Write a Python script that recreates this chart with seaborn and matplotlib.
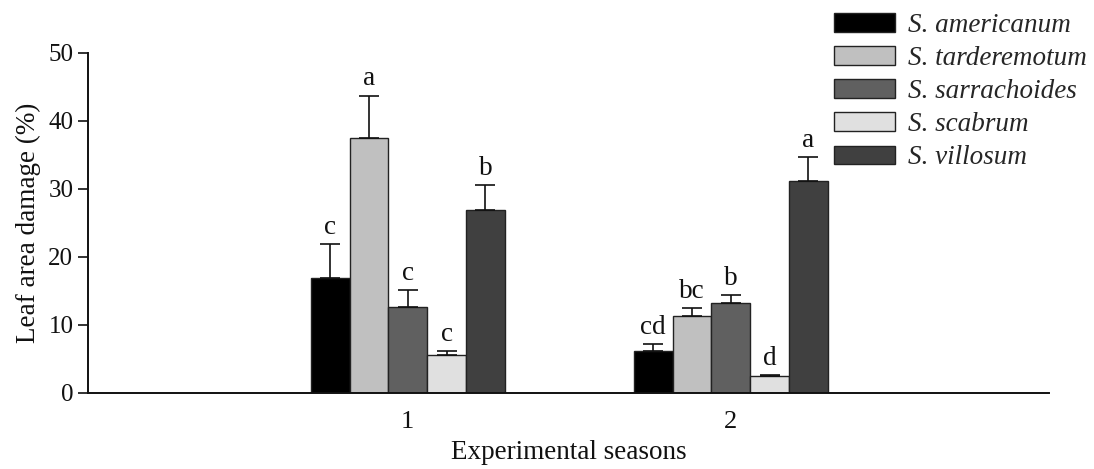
import matplotlib
matplotlib.use("Agg")
import matplotlib.pyplot as plt
import seaborn as sns
import pandas as pd
import numpy as np

# Mean leaf area damage (%) per species and season, with standard errors
seasons = ["1", "2"]
species = ["S. americanum", "S. tarderemotum", "S. sarrachoides", "S. scabrum", "S. villosum"]
season1_mean = [16.9, 37.5, 12.6, 5.5, 26.9]
season2_mean = [6.1, 11.3, 13.2, 2.4, 31.1]
season1_se = [4.9, 6.2, 2.5, 0.6, 3.6]
season2_se = [1.0, 1.2, 1.2, 0.25, 3.6]
season1_letters = ["c", "a", "c", "c", "b"]
season2_letters = ["cd", "bc", "b", "d", "a"]
palette = ["#000000", "#c0c0c0", "#606060", "#e0e0e0", "#404040"]

sns.set_theme(style="ticks")
plt.rcParams["font.family"] = ["Liberation Serif", "DejaVu Serif"]

df = pd.DataFrame({
    "season": [s for s in seasons for _ in species],
    "species": species * 2,
    "damage": season1_mean + season2_mean,
    "se": season1_se + season2_se,
    "letter": season1_letters + season2_letters,
})

fig = plt.figure(figsize=(10.94, 4.69), dpi=100)
ax = fig.add_axes([0.0804, 0.1627, 0.9589 - 0.0804, 0.8876 - 0.1627])

sns.barplot(data=df, x="season", y="damage", hue="species", hue_order=species,
            order=seasons, palette=palette, width=0.6, errorbar=None,
            edgecolor="#222222", linewidth=1.0, ax=ax, legend=True)

fs = 19.5
ink = "#111111"
for cont, sp in zip(ax.containers, species):
    sub = df[df["species"] == sp].set_index("season").loc[seasons]
    for patch, (_, row) in zip(cont.patches, sub.iterrows()):
        xc = patch.get_x() + patch.get_width() / 2
        h = patch.get_height()
        ax.errorbar(xc, h, yerr=[[0], [row["se"]]], fmt="none", ecolor=ink,
                    elinewidth=1.2, capsize=7, capthick=1.2, zorder=3)
        ax.text(xc, h + row["se"] + 0.6, row["letter"], ha="center", va="bottom",
                fontsize=fs, color=ink)

ax.set_ylim(0, 50)
ax.set_yticks([0, 10, 20, 30, 40, 50])
ax.set_xlim(-0.99, 1.985)
ax.set_xlabel("Experimental seasons", fontsize=fs, color=ink, labelpad=5)
ax.set_ylabel("Leaf area damage (%)", fontsize=fs, color=ink, labelpad=5)
ax.tick_params(axis="y", direction="out", length=7, width=1.2, labelsize=18,
               colors=ink, pad=3.5)
ax.tick_params(axis="x", length=0, labelsize=19, colors=ink, pad=13.5)
for side in ["top", "right"]:
    ax.spines[side].set_visible(False)
for side in ["left", "bottom"]:
    ax.spines[side].set_linewidth(1.4)
    ax.spines[side].set_color(ink)

handles, labels = ax.get_legend_handles_labels()
ax.legend_.remove()
fig.legend(handles, species, loc="upper left", bbox_to_anchor=(834 / 1094, 1 - 13 / 469),
           frameon=False, handlelength=2.26, handleheight=0.7,
           handletextpad=0.48, labelspacing=0.3, borderpad=0, borderaxespad=0,
           prop={"style": "italic", "size": fs})

fig.savefig("out.png", dpi=100)
